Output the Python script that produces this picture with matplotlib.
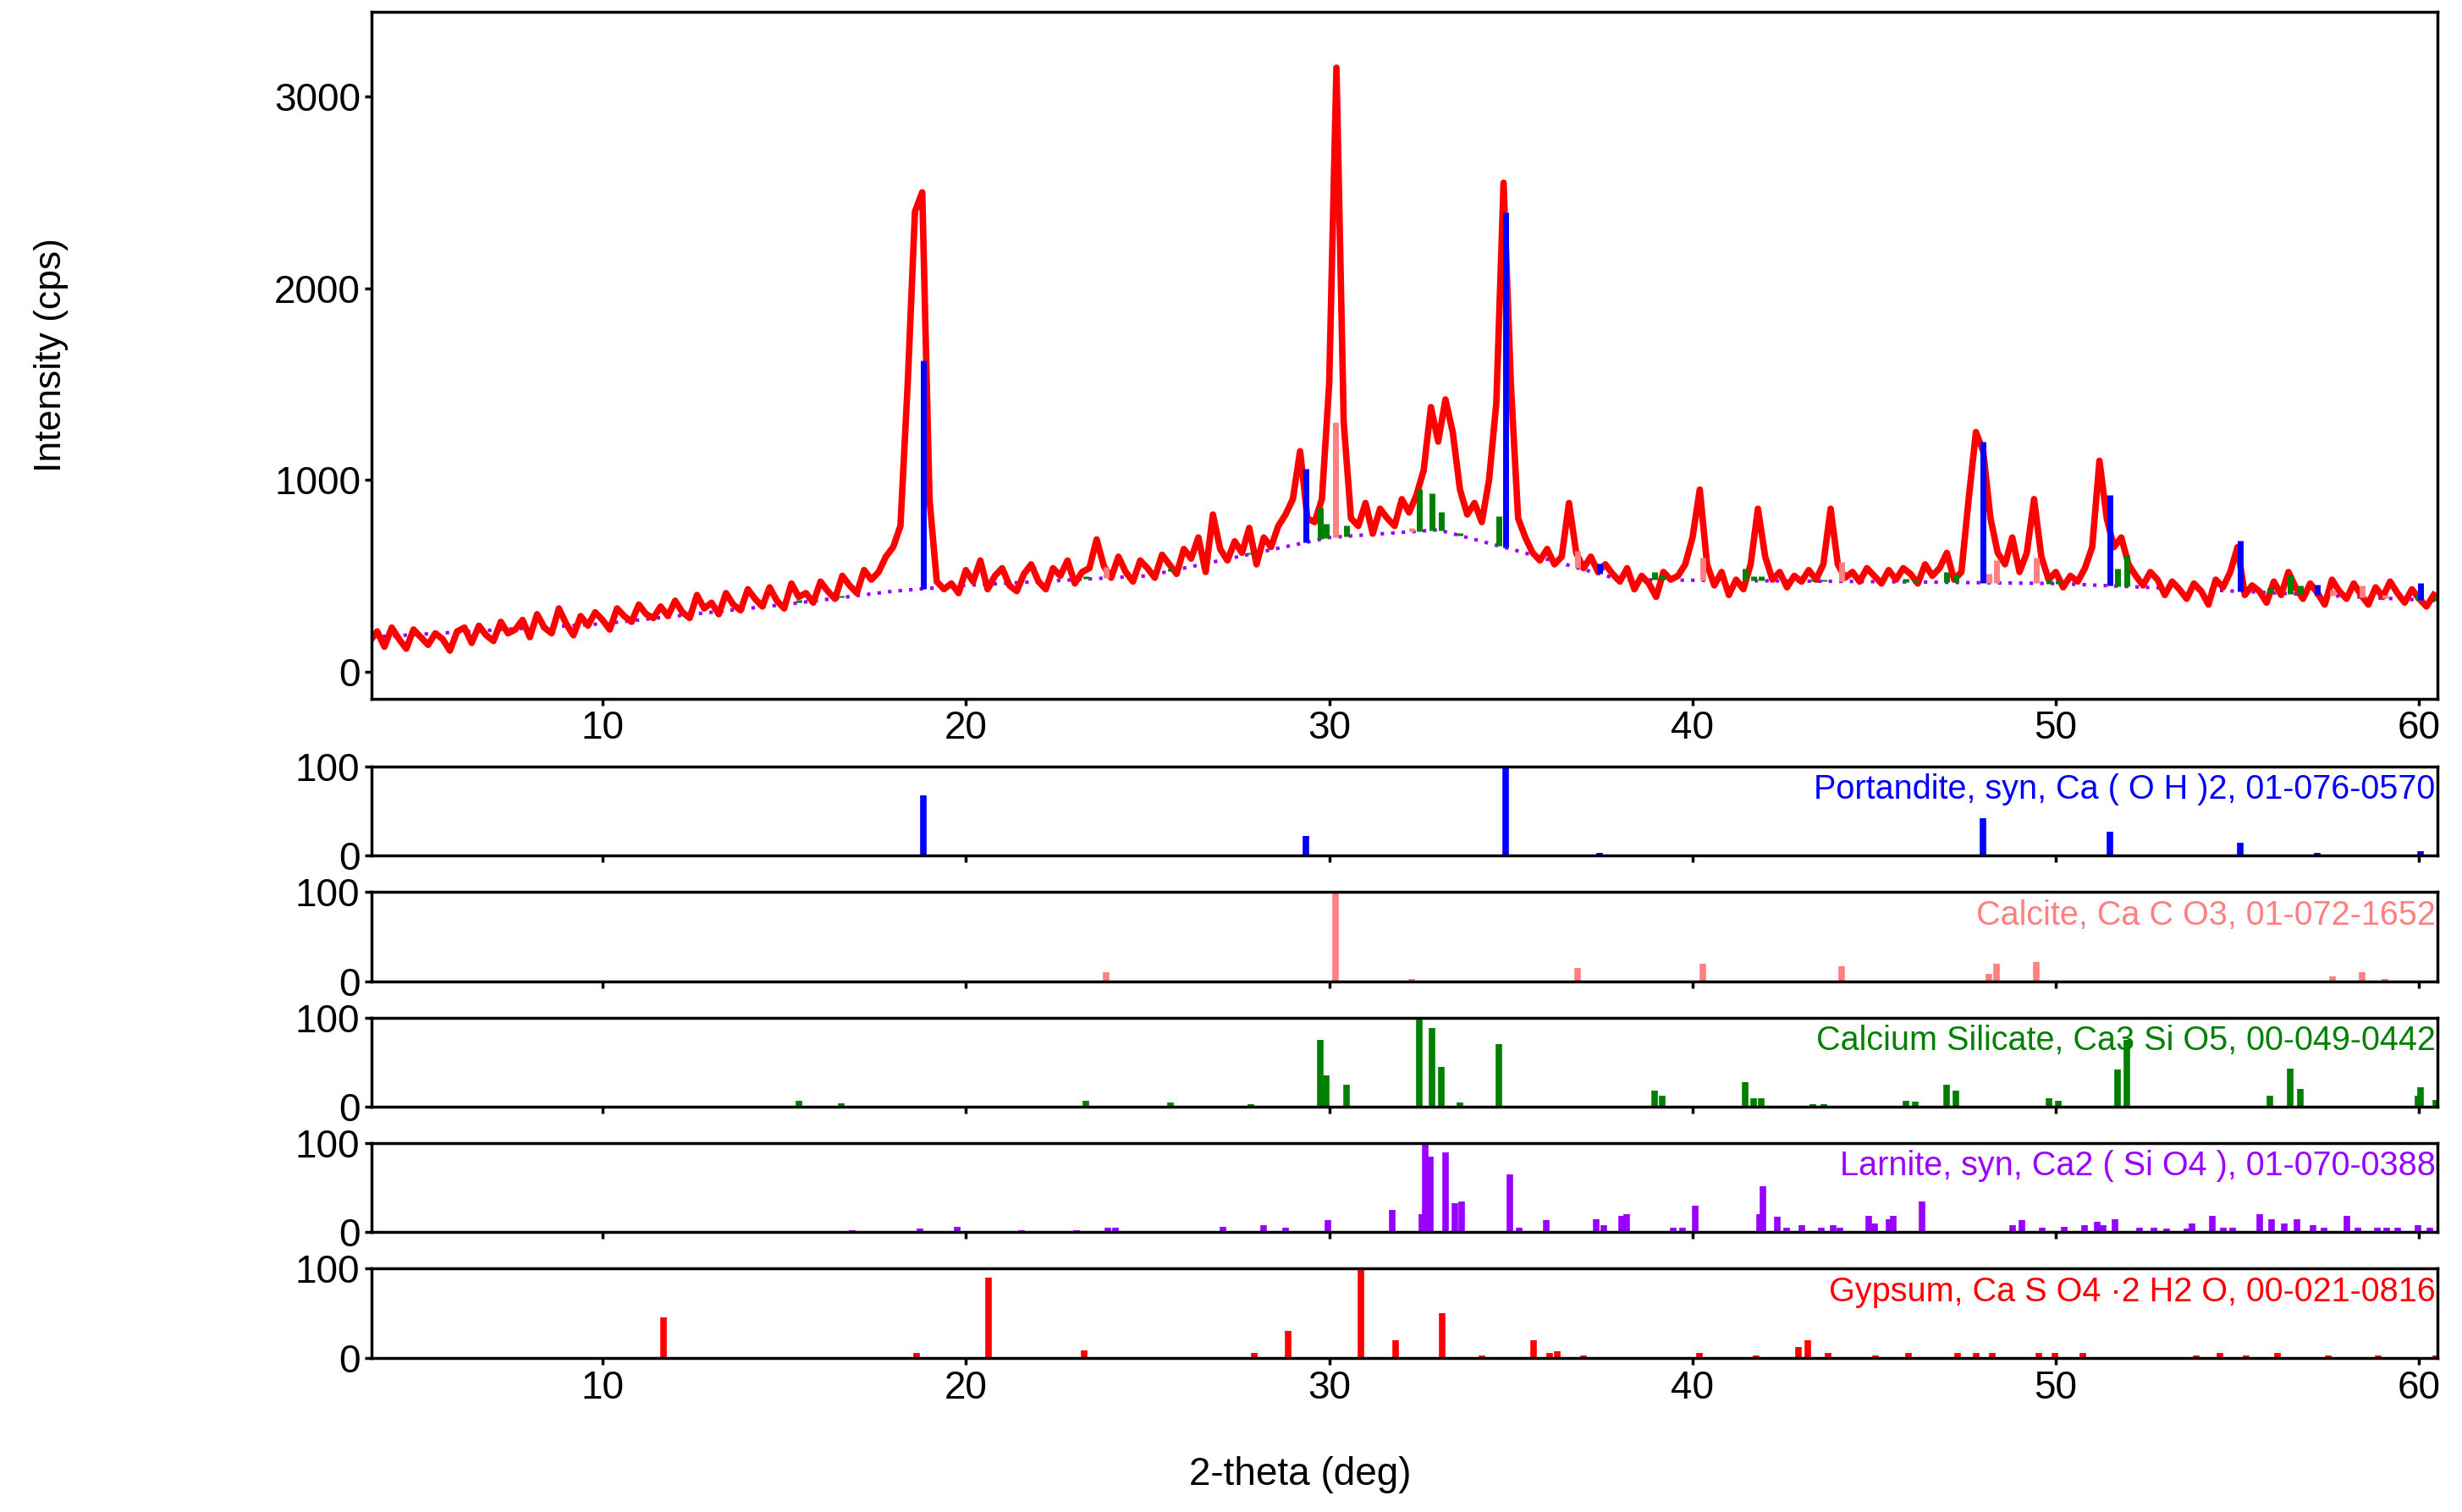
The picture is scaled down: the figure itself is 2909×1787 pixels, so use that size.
import numpy as np
import matplotlib.pyplot as plt

plt.rcParams['font.family'] = ['Liberation Sans', 'DejaVu Sans']

# measured pattern, 0.2 deg step from 3.6 to 60.4
start, step = 3.6, 0.2
counts = [
    160, 210, 130, 230, 170, 120, 220, 180, 140, 200,
    170, 110, 210, 230, 150, 240, 190, 160, 260, 200,
    220, 270, 180, 300, 230, 200, 330, 250, 190, 290,
    240, 310, 270, 220, 330, 290, 260, 350, 300, 280,
    340, 290, 370, 310, 280, 400, 330, 360, 300, 410,
    350, 320, 430, 380, 340, 440, 370, 330, 460, 390,
    410, 360, 470, 420, 380, 500, 450, 410, 530, 480,
    520, 600, 650, 760, 1500, 2400, 2500, 900, 470, 430,
    460, 410, 530, 470, 580, 430, 500, 540, 450, 420,
    510, 560, 470, 430, 540, 500, 580, 460, 520, 540,
    690, 550, 490, 600, 520, 470, 580, 540, 490, 610,
    560, 510, 640, 590, 700, 520, 820, 640, 580, 680,
    620, 750, 560, 700, 650, 760, 820, 900, 1150, 800,
    780, 900, 1500, 3150, 1300, 800, 760, 880, 720, 850,
    800, 760, 900, 830, 920, 1050, 1380, 1200, 1420, 1250,
    950, 820, 880, 780, 1000, 1400, 2550, 1500, 800, 700,
    620, 580, 640, 560, 600, 880, 620, 540, 600, 520,
    560, 510, 470, 540, 430, 500, 460, 390, 520, 480,
    500, 560, 700, 950, 560, 450, 520, 400, 480, 430,
    560, 850, 600, 480, 520, 440, 500, 470, 530, 480,
    560, 850, 560, 490, 520, 470, 540, 500, 460, 530,
    480, 540, 510, 460, 560, 500, 540, 620, 480, 520,
    900, 1250, 1150, 800, 620, 560, 700, 520, 620, 900,
    600, 480, 520, 440, 500, 470, 540, 650, 1100, 800,
    650, 700, 560, 500, 450, 520, 480, 400, 470, 430,
    380, 460, 420, 350, 480, 440, 520, 650, 400, 450,
    420, 360, 470, 400, 520, 440, 380, 460, 410, 350,
    480, 420, 380, 460, 400, 350, 440, 390, 470, 410,
    360, 430, 380, 340, 400,
]
two_theta = start + step * np.arange(len(counts))

# fitted background under the peaks
bg_x = [3.6, 10, 15, 18, 20, 25, 28, 30, 33, 35, 38, 45, 50, 55, 60.5]
bg_y = [180, 250, 350, 420, 450, 500, 620, 700, 740, 640, 480, 470, 460, 420, 370]

port_pos = [18.82, 29.36, 34.85, 37.44, 47.99, 51.49, 55.07, 57.19, 60.04]
port_int = [68, 22, 100, 3, 42, 27, 15, 3, 5]

calc_pos = [23.87, 30.18, 32.26, 36.84, 40.29, 44.10, 48.16, 48.37, 49.45, 57.62, 58.44, 59.05]
calc_int = [10, 100, 3, 15, 20, 17, 8, 20, 22, 5, 10, 3]

cs_pos = [15.40, 16.57, 23.31, 25.64, 27.85, 29.75, 29.92, 30.48, 32.47, 32.82, 33.08, 33.60,
          34.68, 38.95, 39.17, 41.46, 41.68, 41.89, 43.32, 43.62, 45.87, 46.13, 46.99, 47.25,
          49.80, 50.06, 51.70, 51.96, 55.89, 56.46, 56.72, 59.96, 60.04, 60.45]
cs_int = [7, 4, 7, 5, 3, 75, 35, 25, 100, 88, 45, 5,
          70, 18, 12, 28, 10, 10, 3, 3, 7, 6, 25, 18,
          10, 7, 42, 75, 12, 43, 20, 12, 22, 8]

lar_pos = [16.87, 18.73, 19.77, 21.54, 23.05, 23.92, 24.13, 27.07, 28.19, 28.80, 29.97,
           31.74, 32.56, 32.65, 32.78, 33.21, 33.47, 33.64, 34.98, 35.24, 35.97, 37.35,
           37.57, 38.05, 38.18, 39.47, 39.73, 40.08, 41.85, 41.94, 42.33, 42.59, 43.02,
           43.54, 43.88, 44.06, 44.84, 45.01, 45.40, 45.53, 46.31, 48.81, 49.07, 49.63,
           50.24, 50.80, 51.14, 51.31, 51.62, 52.31, 52.70, 53.05, 53.61, 53.74, 54.30,
           54.60, 54.86, 55.60, 55.94, 56.29, 56.63, 57.07, 57.37, 58.01, 58.32, 58.84,
           59.10, 59.40, 59.96, 60.30]
lar_int = [2, 4, 6, 2, 2, 5, 5, 6, 8, 5, 14,
           25, 20, 100, 85, 90, 33, 35, 65, 5, 14, 15,
           8, 18, 20, 5, 5, 30, 20, 52, 17, 5, 8,
           5, 8, 5, 18, 10, 15, 18, 35, 8, 14, 5,
           6, 8, 12, 8, 15, 5, 5, 4, 4, 10, 18,
           5, 5, 20, 15, 10, 15, 8, 5, 18, 5, 5,
           5, 5, 8, 5]

gyp_pos = [11.68, 18.64, 20.63, 23.26, 27.93, 28.88, 30.87, 31.82, 33.12, 34.20, 35.62,
           36.06, 36.27, 37.01, 40.20, 41.76, 42.92, 43.18, 43.74, 45.04, 45.95, 47.29,
           47.81, 48.24, 49.54, 49.97, 50.75, 53.86, 54.51, 55.24, 56.11, 57.49, 58.88, 60.45]
gyp_int = [45, 5, 90, 8, 5, 30, 100, 20, 50, 3, 20,
           5, 7, 3, 5, 3, 12, 20, 5, 3, 5, 5,
           5, 5, 5, 5, 5, 3, 5, 3, 5, 3, 3, 3]

phases = [
    ("Portandite, syn, Ca ( O H )2, 01-076-0570", port_pos, port_int, "#0000ff"),
    ("Calcite, Ca C O3, 01-072-1652", calc_pos, calc_int, "#ff8080"),
    ("Calcium Silicate, Ca3 Si O5, 00-049-0442", cs_pos, cs_int, "#008000"),
    ("Larnite, syn, Ca2 ( Si O4 ), 01-070-0388", lar_pos, lar_int, "#9900ff"),
    ("Gypsum, Ca S O4 \u00b72 H2 O, 00-021-0816", gyp_pos, gyp_int, "#ff0000"),
]

xmin, xmax = 3.65, 60.5
fig = plt.figure(figsize=(29.09, 17.87), dpi=100)

ax = fig.add_axes([0.151, 0.538, 0.839, 0.454])
bgx = np.linspace(xmin, xmax, 400)
ax.plot(bgx, np.interp(bgx, bg_x, bg_y), color="#9900ff", lw=3, ls=(0, (1, 2)))
ax.plot(two_theta, counts, color="#ff0000", lw=5.5)
# reference sticks over the pattern
for pos, inten, col, scale in [(cs_pos, cs_int, "#008000", 2.2), (calc_pos, calc_int, "#ff8080", 6),
                               (port_pos, port_int, "#0000ff", 17.5)]:
    base = np.interp(pos, bg_x, bg_y)
    ax.vlines(pos, base, base + np.array(inten) * scale, color=col, lw=5)
ax.set_xlim(xmin, xmax)
ax.set_ylim(-140, 3440)
ax.set_yticks([0, 1000, 2000, 3000])
ax.set_xticks([10, 20, 30, 40, 50, 60])
ax.tick_params(labelsize=33, width=2.5, length=6)
ax.set_ylabel("Intensity (cps)", fontsize=32, labelpad=175)

tops = [0.493, 0.410, 0.327, 0.244, 0.161]
for i, (name, pos, inten, col) in enumerate(phases):
    a = fig.add_axes([0.151, tops[i] - 0.059, 0.839, 0.059])
    a.vlines(pos, 0, inten, color=col, lw=5.5)
    a.set_xlim(xmin, xmax)
    a.set_ylim(0, 100)
    a.set_yticks([0, 100])
    a.set_xticks([10, 20, 30, 40, 50, 60])
    a.tick_params(labelsize=33, width=2.5, length=6, pad=4)
    if i < 4:
        a.tick_params(labelbottom=False)
    a.text(0.999, 0.92, name, transform=a.transAxes, ha="right", va="top",
           color=col, fontsize=28.5)

for a in fig.axes:
    for s in a.spines.values():
        s.set_linewidth(2.5)

fig.text(0.528, 0.018, "2-theta (deg)", ha="center", fontsize=33)
fig.savefig("out.png", dpi=100)
